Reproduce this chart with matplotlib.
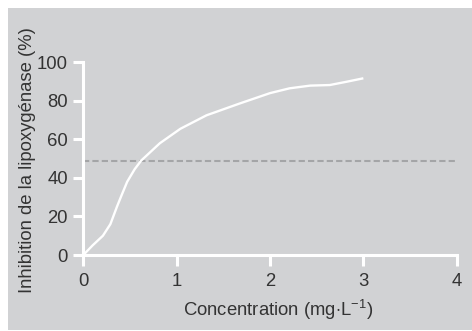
import matplotlib
matplotlib.use("Agg")
import matplotlib.pyplot as plt
from matplotlib.patches import Rectangle

plt.rcParams['font.family'] = ['Liberation Sans', 'DejaVu Sans']
plt.rcParams['mathtext.fontset'] = 'custom'
plt.rcParams['mathtext.rm'] = 'Liberation Sans'
plt.rcParams['mathtext.it'] = 'Liberation Sans'

# Courbe (concentration en mg/L, inhibition en %)
concentration = [0, 0.1, 0.21, 0.29, 0.36, 0.41, 0.47, 0.55, 0.62, 0.72,
                 0.82, 1.04, 1.32, 1.68, 2.0, 2.21, 2.43, 2.64, 2.82, 3.0]
inhibition = [0, 5, 10, 16, 25, 31, 38, 44.5, 49, 53.5,
              58, 65.5, 72.5, 78.7, 84, 86.5, 87.9, 88.2, 89.9, 91.7]
ic50 = 49

xticks = [0, 1, 2, 3, 4]
yticks = [0, 20, 40, 60, 80, 100]

fond = '#d1d2d4'
texte = '#333333'

fig = plt.figure(figsize=(4.72, 3.31), dpi=100)
fig.patches.append(Rectangle((8 / 472, 1 / 331), 464 / 472, 322 / 331,
                             transform=fig.transFigure, facecolor=fond,
                             edgecolor='none', zorder=-10))

ax = fig.add_axes([83.3 / 472, 1 - 255 / 331, 373.4 / 472, 192.7 / 331])
ax.set_facecolor('none')
ax.set_zorder(5)

ax.plot([0, 4], [ic50, ic50], color='#a4a5a7', lw=1.5,
        dashes=(3, 1.5), clip_on=False)
ax.plot(concentration, inhibition, color='white', lw=1.7, clip_on=False,
        solid_capstyle='butt', solid_joinstyle='round')

ax.set_xlim(0, 4)
ax.set_ylim(0, 100)
ax.set_xticks(xticks)
ax.set_yticks(yticks)

for s in ['top', 'right']:
    ax.spines[s].set_visible(False)
for s in ['left', 'bottom']:
    ax.spines[s].set_color('white')
    ax.spines[s].set_linewidth(2.2)

ax.tick_params(axis='both', colors='white', width=2.2, labelcolor=texte,
               labelsize=13.3)
ax.tick_params(axis='y', length=7, pad=4)
ax.tick_params(axis='x', length=8, pad=5)

fig.text(28 / 472, 1 - 160 / 331, 'Inhibition de la lipoxygénase (%)',
         rotation=90, ha='center', va='center', fontsize=13.3, color=texte,
         zorder=6)
fig.text(278 / 472, 1 - 310 / 331, r'Concentration (mg$\cdot$L$^{-1}$)',
         ha='center', va='center', fontsize=13.3, color=texte, zorder=6)

fig.savefig('out.png', dpi=100, facecolor='white')
